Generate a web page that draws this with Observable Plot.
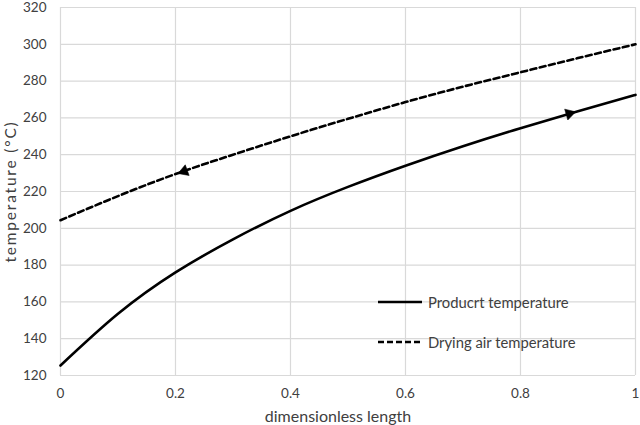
<!DOCTYPE html>
<html>
<head>
<meta charset="utf-8">
<script src="https://cdn.jsdelivr.net/npm/d3@7"></script>
<script src="https://cdn.jsdelivr.net/npm/@observablehq/plot@0.6"></script>
<style>
  body { margin: 0; background: #fff; font-family: Lato, "Open Sans", sans-serif; }
  #wrap { position: relative; width: 640px; height: 425px; }
  #legend { position: absolute; left: 377px; top: 292px; font-family: Lato, sans-serif; font-size: 14.8px; color: #404040; }
  #legend .row { display: flex; align-items: center; height: 20px; margin-bottom: 20px; }
  #legend svg { margin-right: 5px; }
  [aria-label="x-axis label"], [aria-label="x-axis label"] text { font-size: 16px !important; fill: #404040; }
  [aria-label="x-axis label"] { translate: -10px 0px; }
  [aria-label="y-axis label"], [aria-label="y-axis label"] text { font-size: 15.5px !important; letter-spacing: 1.8px; fill: #404040; }
</style>
</head>
<body>
<div id="wrap">
  <div id="chart"></div>
  <div id="legend"></div>
</div>
<script>
const xs = [0, 0.1, 0.2, 0.3, 0.4, 0.5, 0.6, 0.7, 0.8, 0.9, 1.0];
const productTemp = [125.4, 153.5, 176, 194, 209.5, 222.5, 234, 244.6, 254.4, 263.6, 272.5];
const airTemp = [204.4, 217.5, 229.5, 240, 250, 259.5, 268.6, 277, 284.8, 292.5, 300];
const seriesNames = ["Producrt temperature", "Drying air temperature"];
const xTicks = [0, 0.2, 0.4, 0.6, 0.8, 1];
const yTicks = [120, 140, 160, 180, 200, 220, 240, 260, 280, 300, 320];
const arrowX = [0.215, 0.885];
const arrowY = [231, 262.3];
const arrowSeries = [seriesNames[1], seriesNames[0]];

const rows = [];
xs.forEach((x, i) => {
  rows.push({x, y: productTemp[i], s: seriesNames[0]});
  rows.push({x, y: airTemp[i], s: seriesNames[1]});
});
const arrows = arrowX.map((x, i) => ({x, y: arrowY[i], s: arrowSeries[i]}));

const plot = Plot.plot({
  width: 640,
  height: 425,
  marginLeft: 60,
  marginRight: 5,
  marginTop: 7,
  marginBottom: 50,
  style: {fontFamily: "Lato, sans-serif", fontSize: "13px", color: "#404040", background: "#fff"},
  x: {domain: [0, 1], ticks: xTicks, tickFormat: d => String(d), label: "dimensionless length", labelAnchor: "center", labelOffset: 46, labelArrow: "none"},
  y: {domain: [120, 320], ticks: yTicks, label: "temperature (°C)", labelAnchor: "center", labelOffset: 56, labelArrow: "none"},
  marks: [
    Plot.gridX(xTicks, {stroke: "#d9d9d9", strokeOpacity: 1, strokeWidth: 1.2}),
    Plot.gridY(yTicks, {stroke: "#d9d9d9", strokeOpacity: 1, strokeWidth: 1.2}),
    Plot.axisX(xTicks, {tickSize: 0, tickPadding: 13, fontSize: 13.5, fill: "#404040", tickFormat: d => String(d), label: "dimensionless length", labelAnchor: "center", labelOffset: 46, labelArrow: "none"}),
    Plot.axisY(yTicks, {tickSize: 0, tickPadding: 14, fontSize: 13.5, fill: "#404040", label: "temperature (°C)", labelAnchor: "center", labelOffset: 56, labelArrow: "none"}),
    Plot.line(rows.filter(d => d.s === seriesNames[0]), {x: "x", y: "y", stroke: "#000", strokeWidth: 2.6, curve: "natural"}),
    Plot.line(rows.filter(d => d.s === seriesNames[1]), {x: "x", y: "y", stroke: "#000", strokeWidth: 2.6, strokeDasharray: "6,3.5", curve: "natural"}),
    Plot.dot(arrows, {x: "x", y: "y", symbol: "triangle", r: 4.2, fill: "#000", stroke: "#000", strokeWidth: 0.5, rotate: d => d.s === seriesNames[0] ? 74 : 250})
  ]
});
document.getElementById("chart").appendChild(plot);

const legend = document.getElementById("legend");
seriesNames.forEach((name, i) => {
  const row = document.createElement("div");
  row.className = "row";
  row.innerHTML = `<svg width="46" height="6"><line x1="1" y1="3" x2="45" y2="3" stroke="#000" stroke-width="2.6" ${i === 1 ? 'stroke-dasharray="6,3"' : ''}/></svg><span>${name}</span>`;
  legend.appendChild(row);
});
</script>
</body>
</html>
